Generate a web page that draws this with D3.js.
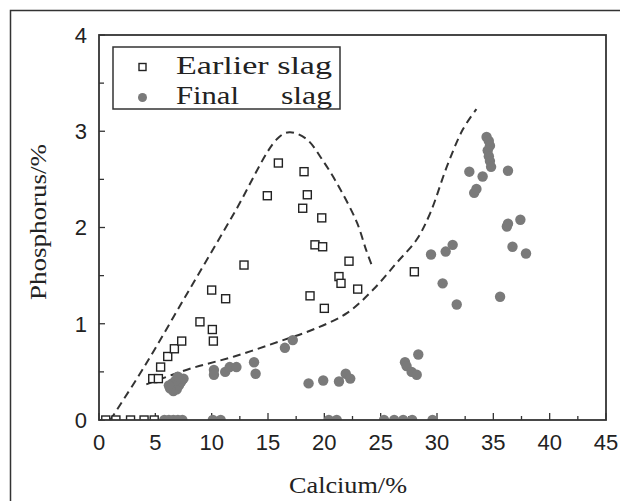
<!DOCTYPE html>
<html>
<head>
<meta charset="utf-8">
<script src="https://cdn.jsdelivr.net/npm/d3@7/dist/d3.min.js"></script>
<style>
  body { margin: 0; background: #fff; }
  svg { display: block; }
</style>
</head>
<body>
<div id="chart"></div>
<script>
// datos
var earlierCa = [4.77, 5.27, 5.47, 6.1, 6.69, 7.34, 8.96, 10.06, 10.15, 10.0, 11.24, 12.87, 14.94, 15.92,
                 18.2, 18.49, 18.08, 19.77, 19.17, 19.85, 22.19, 21.3, 21.48, 22.96, 18.73, 20.0, 27.99,
                 0.6, 1.5, 2.8, 4.0, 4.9];
var earlierP  = [0.43, 0.43, 0.55, 0.66, 0.74, 0.82, 1.02, 0.94, 0.82, 1.35, 1.26, 1.61, 2.33, 2.67,
                 2.58, 2.34, 2.2, 2.1, 1.82, 1.8, 1.65, 1.49, 1.42, 1.36, 1.29, 1.16, 1.54,
                 0, 0, 0, 0, 0];

var finalCa = [6.3, 6.6, 6.9, 7.1, 7.3, 7.5, 6.5, 6.8, 7.0, 6.2,
               10.2, 10.2, 11.2, 11.6, 12.2, 13.76, 13.9, 16.5, 17.2,
               18.6, 19.9, 21.3, 21.9, 22.3, 27.16, 27.3, 27.75, 28.2, 28.34,
               29.47, 30.77, 31.39, 30.5, 31.75, 32.87, 34.05, 33.3, 33.5,
               34.4, 34.6, 34.7, 34.5, 34.6, 34.7, 34.8,
               36.3, 36.2, 36.3, 37.4, 36.7, 37.9, 35.6,
               5.8, 6.2, 6.6, 7.0, 7.4, 10.1, 10.8, 20.4, 21.1, 25.3, 26.2, 27.0, 27.8, 29.6];
var finalP  = [0.33, 0.30, 0.32, 0.36, 0.40, 0.43, 0.38, 0.41, 0.45, 0.36,
               0.52, 0.47, 0.50, 0.55, 0.55, 0.60, 0.48, 0.75, 0.83,
               0.38, 0.41, 0.40, 0.48, 0.43, 0.60, 0.56, 0.50, 0.47, 0.68,
               1.72, 1.75, 1.82, 1.42, 1.20, 2.58, 2.53, 2.36, 2.40,
               2.94, 2.90, 2.85, 2.80, 2.74, 2.69, 2.63,
               2.59, 2.01, 2.04, 2.08, 1.80, 1.73, 1.28,
               0, 0, 0, 0, 0, 0, 0, 0, 0, 0, 0, 0, 0, 0];

// curvas envolventes (punteadas)
var upperCa = [1.0, 4.0, 8.0, 12.0, 15.8, 16.9, 18.4, 19.9, 21.4, 22.9, 23.7, 24.2];
var upperP  = [0.0, 0.55, 1.35, 2.15, 2.92, 2.99, 2.92, 2.69, 2.40, 2.05, 1.77, 1.61];
var lowerCa = [4.2, 8.0, 12.0, 16.1, 19.0, 22.0, 24.3, 26.4, 28.2, 29.4, 30.9, 32.3, 33.5];
var lowerP  = [0.37, 0.53, 0.66, 0.82, 0.94, 1.11, 1.35, 1.63, 1.875, 2.15, 2.64, 3.02, 3.23];

var xTicks = [0, 5, 10, 15, 20, 25, 30, 35, 40, 45];
var yTicks = [0, 1, 2, 3, 4];

var W = 620, H = 501;
var margin = {top: 35, right: 14, bottom: 81, left: 99},
    width = W - margin.left - margin.right,
    height = H - margin.top - margin.bottom;

var svg = d3.select("#chart").append("svg")
    .attr("width", W)
    .attr("height", H);

// marco exterior
svg.append("rect")
    .attr("x", 10.5).attr("y", 10.5)
    .attr("width", W + 20).attr("height", H + 20)
    .attr("fill", "none").attr("stroke", "#333").attr("stroke-width", 1.5);

var g = svg.append("g").attr("transform", "translate(" + margin.left + "," + margin.top + ")");

var x = d3.scaleLinear().domain([0, 45]).range([0, width]);
var y = d3.scaleLinear().domain([0, 4]).range([height, 0]);

g.append("defs").append("clipPath").attr("id", "clip")
    .append("rect").attr("width", width).attr("height", height);

// ticks hacia adentro
var minorX = d3.range(0, 45.01, 2.5);
g.append("g").selectAll("line").data(minorX).enter().append("line")
    .attr("x1", function(d) { return x(d); })
    .attr("x2", function(d) { return x(d); })
    .attr("y1", height)
    .attr("y2", function(d) { return d % 5 === 0 ? height - 7 : height - 4; })
    .attr("stroke", "#333").attr("stroke-width", 1.3);

var minorY = d3.range(0, 4.01, 0.5);
g.append("g").selectAll("line").data(minorY).enter().append("line")
    .attr("x1", 0)
    .attr("x2", function(d) { return d % 1 === 0 ? 6 : 5; })
    .attr("y1", function(d) { return y(d); })
    .attr("y2", function(d) { return y(d); })
    .attr("stroke", "#333").attr("stroke-width", 1.3);

// etiquetas de ejes
g.append("g").selectAll("text").data(xTicks).enter().append("text")
    .attr("x", function(d) { return x(d); })
    .attr("y", height + 30)
    .attr("text-anchor", "middle")
    .attr("font-family", "Liberation Sans, Arial, sans-serif")
    .attr("font-size", 22)
    .attr("fill", "#222")
    .text(function(d) { return d; });

g.append("g").selectAll("text").data(yTicks).enter().append("text")
    .attr("x", -12)
    .attr("y", function(d) { return y(d); })
    .attr("dy", "0.36em")
    .attr("text-anchor", "end")
    .attr("font-family", "Liberation Sans, Arial, sans-serif")
    .attr("font-size", 22)
    .attr("fill", "#222")
    .text(function(d) { return d; });

// curvas punteadas
var line = d3.line()
    .x(function(d) { return x(d[0]); })
    .y(function(d) { return y(d[1]); })
    .curve(d3.curveCatmullRom);

g.append("path")
    .datum(d3.zip(upperCa, upperP))
    .attr("d", line)
    .attr("fill", "none").attr("stroke", "#333").attr("stroke-width", 2)
    .attr("stroke-dasharray", "8,5");

g.append("path")
    .datum(d3.zip(lowerCa, lowerP))
    .attr("d", line)
    .attr("fill", "none").attr("stroke", "#333").attr("stroke-width", 2)
    .attr("stroke-dasharray", "8,5");

var pts = g.append("g").attr("clip-path", "url(#clip)");

pts.selectAll("circle").data(d3.zip(finalCa, finalP)).enter().append("circle")
    .attr("cx", function(d) { return x(d[0]); })
    .attr("cy", function(d) { return y(d[1]); })
    .attr("r", 5.2)
    .attr("fill", "#7a7a7a");

pts.selectAll("rect").data(d3.zip(earlierCa, earlierP)).enter().append("rect")
    .attr("x", function(d) { return x(d[0]) - 4; })
    .attr("y", function(d) { return y(d[1]) - 4; })
    .attr("width", 8).attr("height", 8)
    .attr("fill", "#fff").attr("stroke", "#222").attr("stroke-width", 1.4);

// marco del grafico
g.append("rect")
    .attr("width", width).attr("height", height)
    .attr("fill", "none").attr("stroke", "#333").attr("stroke-width", 1.8);

// leyenda
var legend = svg.append("g");
legend.append("rect")
    .attr("x", 113).attr("y", 47)
    .attr("width", 227).attr("height", 62)
    .attr("fill", "#fff").attr("stroke", "#333").attr("stroke-width", 1.5);
legend.append("rect")
    .attr("x", 139).attr("y", 63.5).attr("width", 7).attr("height", 7)
    .attr("fill", "#fff").attr("stroke", "#222").attr("stroke-width", 1.4);
legend.append("circle")
    .attr("cx", 142.5).attr("cy", 97.5).attr("r", 4.5)
    .attr("fill", "#7a7a7a");

var lf = "Liberation Serif, Times New Roman, serif";
legend.append("text").attr("x", 176).attr("y", 73.5)
    .attr("font-family", lf).attr("font-size", 25).attr("fill", "#222")
    .attr("textLength", 156).attr("lengthAdjust", "spacingAndGlyphs")
    .text("Earlier slag");
legend.append("text").attr("x", 176).attr("y", 103.5)
    .attr("font-family", lf).attr("font-size", 25).attr("fill", "#222")
    .attr("textLength", 63).attr("lengthAdjust", "spacingAndGlyphs")
    .text("Final");
legend.append("text").attr("x", 281).attr("y", 103.5)
    .attr("font-family", lf).attr("font-size", 25).attr("fill", "#222")
    .attr("textLength", 51).attr("lengthAdjust", "spacingAndGlyphs")
    .text("slag");

// titulos
svg.append("text")
    .attr("x", 348).attr("y", 493)
    .attr("text-anchor", "middle")
    .attr("font-family", lf).attr("font-size", 24).attr("fill", "#222")
    .attr("textLength", 118).attr("lengthAdjust", "spacingAndGlyphs")
    .text("Calcium/%");

svg.append("text")
    .attr("transform", "translate(46,222) rotate(-90)")
    .attr("text-anchor", "middle")
    .attr("font-family", lf).attr("font-size", 24).attr("fill", "#222")
    .attr("textLength", 156).attr("lengthAdjust", "spacingAndGlyphs")
    .text("Phosphorus/%");
</script>
</body>
</html>
